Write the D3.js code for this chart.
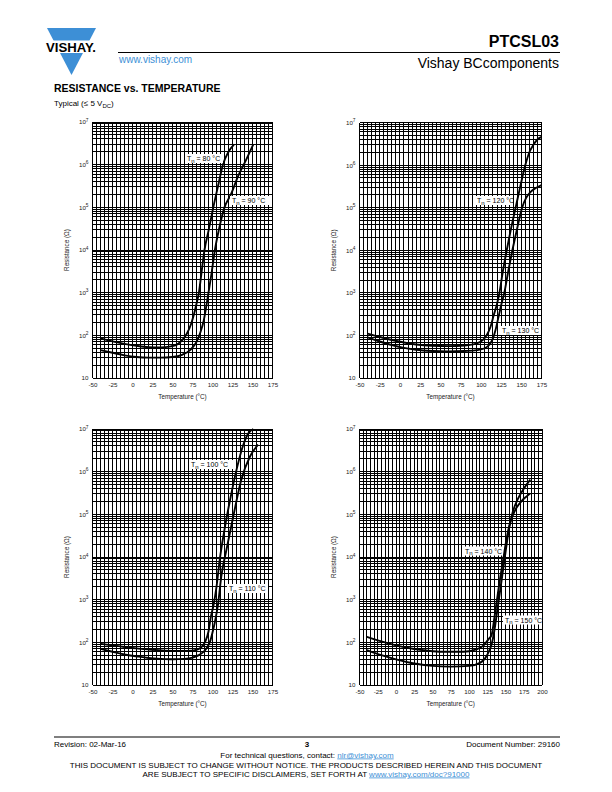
<!DOCTYPE html>
<html><head><meta charset="utf-8">
<script src="https://cdn.jsdelivr.net/npm/d3@7"></script>
<style>body{margin:0;background:#fff}svg{display:block;font-family:"Liberation Sans",Arial,Helvetica,sans-serif}</style>
</head><body><svg id="c" width="612" height="792"></svg>
<script>
// ---------- data ----------
const tempTicksA = [-50,-25,0,25,50,75,100,125,150,175];
const tempTicksB = [-50,-25,0,25,50,75,100,125,150,175,200];
const resistanceTicks = [10,1e2,1e3,1e4,1e5,1e6,1e7];

const temp80 = [-40,-25,-10,5,20,35,48,57,63,68,73,77,80,83,86,90,95,101,107,113,120,127];
const res80  = [85,72,63,57,53,52,55,63,80,110,180,320,550,1000,2700,10000,28000,100000,320000,1000000,2000000,3000000];
const temp90 = [-40,-25,-10,5,20,35,50,62,72,80,85,89,92,95,99,103,108,115,123,132,142,151];
const res90  = [45,39,34,31,30,30,31,35,45,70,120,220,450,1000,3000,10000,30000,100000,200000,540000,1300000,3000000];

const temp120 = [-40,-25,-10,5,20,40,60,80,95,103,107,112,116,120,123,127,132,137,143,149,155,160,165,170,175];
const res120  = [110,92,78,68,61,57,56,58,65,80,100,160,300,550,1000,3000,10000,30000,100000,330000,1000000,2000000,3000000,4000000,4600000];
const temp130 = [-40,-25,-10,5,20,40,60,80,95,105,111,115,118,122,126,129,134,139,145,151,156,161,168,175];
const res130  = [90,72,59,51,46,43,42,43,45,50,62,85,130,280,600,1000,3300,10000,33000,100000,170000,230000,290000,340000];

const temp100 = [-40,-25,-10,5,20,40,60,75,83,88,91,95,98,101,105,109,115,122,130,138,145,151];
const res100  = [92,85,78,72,68,64,63,64,70,85,105,180,400,700,2000,8500,44000,220000,1100000,4000000,8000000,10000000];
const temp110 = [-40,-25,-10,5,20,35,50,65,75,83,88,93,97,100,103,107,111,117.5,126,136,147,157];
const res110  = [70,60,52,47,43,41,40,41,44,50,58,75,105,170,300,800,3500,15000,90000,650000,2300000,4300000];

const temp140 = [-40,-20,0,25,50,65,85,100,110,120,127,131,135,139,143,147,151,155,160,166,172,178,184];
const res140  = [135,105,85,70,62,60,60,62,68,85,120,150,400,1200,3500,9000,24000,52000,95000,150000,205000,255000,310000];
const temp150 = [-40,-20,0,25,50,75,100,115,122,127,131,135,139,143,147,151,155,160,167,175,184];
const res150  = [66,50,40,32,28,27,28,33,42,60,90,200,600,1800,5500,17000,48000,115000,230000,400000,650000];

// ---------- layout ----------
const svg = d3.select('#c');
const zip = (a,b)=>a.map((v,i)=>[v,b[i]]);

const panels = [
  {x0:92.5,x1:272.5,y0:122,y1:378,tmax:175,ticks:tempTicksA,
   series:[zip(temp80,res80),zip(temp90,res90)],
   labels:[{x:185,y:158.5,w:38,t:'80'},{x:230,y:200.5,w:42,t:'90'}]},
  {x0:359.5,x1:541.5,y0:122.5,y1:378,tmax:175,ticks:tempTicksA,
   series:[zip(temp120,res120),zip(temp130,res130)],
   labels:[{x:475,y:200.5,w:38,t:'120'},{x:500,y:330.5,w:41,t:'130'}]},
  {x0:92.5,x1:272.5,y0:429,y1:685,tmax:175,ticks:tempTicksA,
   series:[zip(temp100,res100),zip(temp110,res110)],
   labels:[{x:189,y:464.5,w:44,t:'100'},{x:227,y:588.5,w:41,t:'110'}]},
  {x0:359.5,x1:542,y0:429,y1:685,tmax:200,ticks:tempTicksB,
   series:[zip(temp140,res140),zip(temp150,res150)],
   labels:[{x:463,y:551,w:40,t:'140'},{x:503,y:620,w:39,t:'150'}]}
];

panels.forEach((p,pi)=>{
  const g = svg.append('g');
  const x = d3.scaleLinear().domain([-50,p.tmax]).range([p.x0,p.x1]);
  const y = d3.scaleLog().domain([10,1e7]).range([p.y1,p.y0]);
  const vLines = d3.range(-50,p.tmax+0.01,5);
  const hLines = [];
  for(let e=1;e<7;e++) for(let k=1;k<10;k++) hLines.push(k*Math.pow(10,e));
  hLines.push(1e7);
  const grid = g.append('g').attr('stroke','#000').attr('stroke-width',1).attr('shape-rendering','crispEdges');
  grid.selectAll('.v').data(vLines).join('line').attr('class','v')
    .attr('x1',d=>x(d)).attr('x2',d=>x(d)).attr('y1',p.y0).attr('y2',p.y1);
  grid.selectAll('.h').data(hLines).join('line').attr('class','h')
    .attr('x1',p.x0).attr('x2',p.x1).attr('y1',d=>y(d)).attr('y2',d=>y(d));

  const cid='clip'+pi;
  g.append('clipPath').attr('id',cid).append('rect')
    .attr('x',p.x0).attr('y',p.y0-1).attr('width',p.x1-p.x0).attr('height',p.y1-p.y0+1);
  const line = d3.line().x(d=>x(d[0])).y(d=>y(d[1])).curve(d3.curveMonotoneX);
  g.append('g').attr('clip-path',`url(#${cid})`).selectAll('path').data(p.series).join('path')
    .attr('d',line).attr('fill','none').attr('stroke','#000').attr('stroke-width',1.9)
    .attr('stroke-linejoin','round');

  // labels
  p.labels.forEach(l=>{
    g.append('rect').attr('x',l.x).attr('y',l.y-4.5).attr('width',l.w).attr('height',9).attr('fill','#fff');
    const t = g.append('text').attr('x',l.x+2).attr('y',l.y+2.5).attr('font-size',7).attr('fill','#000');
    t.append('tspan').text('T');
    t.append('tspan').attr('dy',1.6).attr('font-size',6).text('n');
    t.append('tspan').attr('dy',-1.6).text(' = '+l.t+' °C');
  });

  // x axis
  const xa = d3.axisBottom(x).tickValues(p.ticks).tickSize(0).tickPadding(5).tickFormat(d=>String(d));
  const gx = g.append('g').attr('transform',`translate(0,${p.y1})`).call(xa);
  gx.select('.domain').remove();
  gx.attr('font-family',null).attr('font-size',null);
  gx.selectAll('text').attr('font-size',6.2).attr('fill','#222');
  // y axis
  const ya = d3.axisLeft(y).tickValues(resistanceTicks).tickSize(0).tickPadding(4).tickFormat('');
  const gy = g.append('g').attr('transform',`translate(${p.x0},0)`).call(ya);
  gy.select('.domain').remove();
  gy.attr('font-family',null).attr('font-size',null);
  gy.selectAll('text').attr('font-size',6.2).attr('fill','#222').each(function(d){
    const t=d3.select(this); const e=Math.round(Math.log10(d));
    t.append('tspan').text('10');
    if(e>1) t.append('tspan').attr('dy',-2.8).attr('font-size',4.8).text(e);
  });
  // axis titles
  g.append('text').attr('x',(p.x0+p.x1)/2).attr('y',p.y1+20.5).attr('text-anchor','middle')
    .attr('font-size',6.3).attr('fill','#222').text('Temperature (°C)');
  g.append('text').attr('transform',`translate(${p.x0-24},${(p.y0+p.y1)/2}) rotate(-90)`)
    .attr('text-anchor','middle').attr('font-size',6.3).attr('fill','#222').text('Resistance (Ω)');
});

// ---------- header ----------
const blue = '#3d8fd6';
svg.append('path').attr('d','M47,28 L96,28 L71.5,75 Z').attr('fill',blue);
svg.append('rect').attr('x',44).attr('y',40.5).attr('width',56).attr('height',12.5).attr('fill','#fff');
svg.append('text').attr('x',46).attr('y',51.8).attr('font-size',12.5).attr('font-weight','bold')
  .attr('textLength',50).attr('lengthAdjust','spacingAndGlyphs').attr('fill','#000').text('VISHAY.');
svg.append('line').attr('x1',118).attr('x2',560).attr('y1',52.5).attr('y2',52.5).attr('stroke','#000').attr('stroke-width',1);
svg.append('text').attr('x',559).attr('y',46.5).attr('text-anchor','end').attr('font-size',16).attr('font-weight','bold').attr('fill','#000').text('PTCSL03');
svg.append('text').attr('x',119).attr('y',63).attr('font-size',10).attr('fill',blue).text('www.vishay.com');
svg.append('text').attr('x',559).attr('y',67.5).attr('text-anchor','end').attr('font-size',14).attr('fill','#000').text('Vishay BCcomponents');
svg.append('text').attr('x',54).attr('y',91.5).attr('font-size',10.5).attr('font-weight','bold').attr('fill','#000').text('RESISTANCE vs. TEMPERATURE');
const ty = svg.append('text').attr('x',54).attr('y',106).attr('font-size',8).attr('fill','#000');
ty.append('tspan').text('Typical (≤ 5 V');
ty.append('tspan').attr('dy',1.5).attr('font-size',6).text('DC');
ty.append('tspan').attr('dy',-1.5).text(')');

// ---------- footer ----------
svg.append('line').attr('x1',54).attr('x2',560).attr('y1',737).attr('y2',737).attr('stroke','#000').attr('stroke-width',1.2);
svg.append('text').attr('x',54).attr('y',746.5).attr('font-size',8).attr('fill','#000').text('Revision: 02-Mar-16');
svg.append('text').attr('x',307).attr('y',747).attr('text-anchor','middle').attr('font-size',8).attr('font-weight','bold').attr('fill','#000').text('3');
svg.append('text').attr('x',560).attr('y',746.5).attr('text-anchor','end').attr('font-size',8).attr('fill','#000').text('Document Number: 29160');
const f1 = svg.append('text').attr('x',307).attr('y',757.5).attr('text-anchor','middle').attr('font-size',8).attr('fill','#000');
f1.append('tspan').text('For technical questions, contact: ');
f1.append('tspan').attr('fill',blue).attr('text-decoration','underline').text('nlr@vishay.com');
svg.append('text').attr('x',306).attr('y',767.5).attr('text-anchor','middle').attr('font-size',8).attr('fill','#000')
  .text('THIS DOCUMENT IS SUBJECT TO CHANGE WITHOUT NOTICE. THE PRODUCTS DESCRIBED HEREIN AND THIS DOCUMENT');
const f3 = svg.append('text').attr('x',306).attr('y',776.5).attr('text-anchor','middle').attr('font-size',8).attr('fill','#000');
f3.append('tspan').text('ARE SUBJECT TO SPECIFIC DISCLAIMERS, SET FORTH AT ');
f3.append('tspan').attr('fill',blue).attr('text-decoration','underline').text('www.vishay.com/doc?91000');
</script></body></html>
